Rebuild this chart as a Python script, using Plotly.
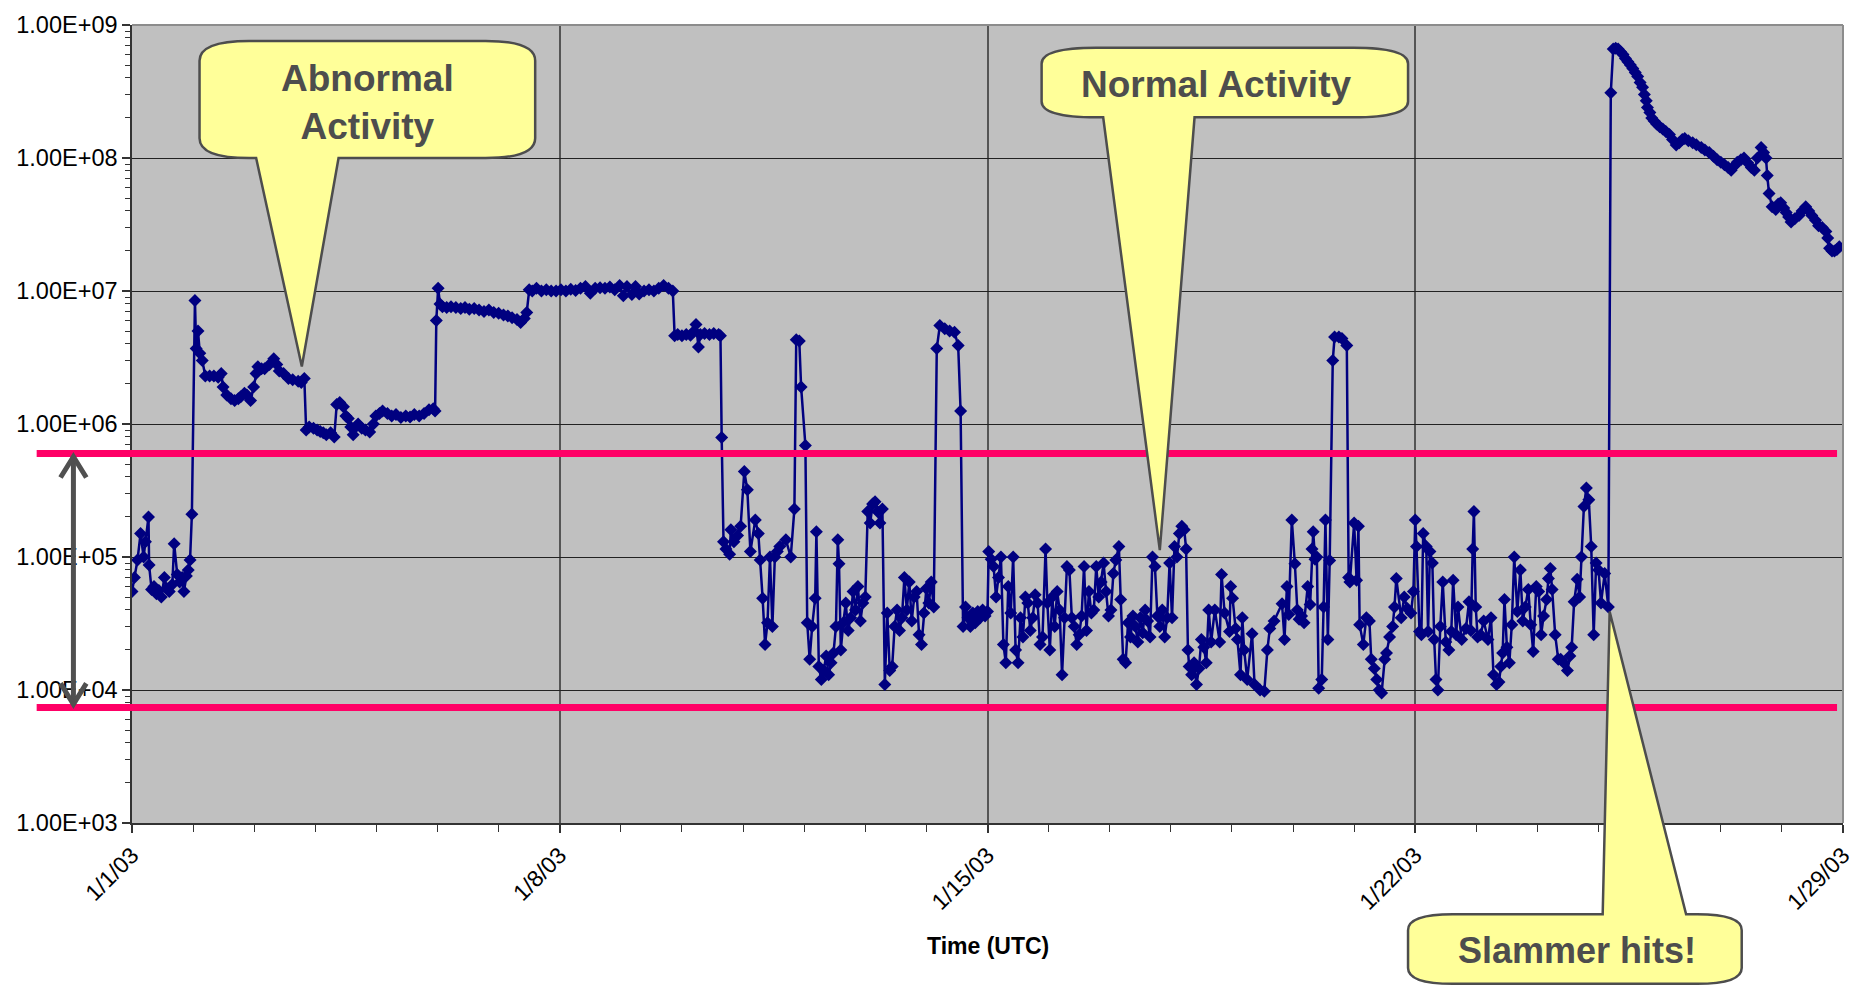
import numpy as np
import pandas as pd
import plotly.graph_objects as go

# ---------------- data (day offset from 2003-01-01 00:00 UTC, count) ----------------
start_date = "2003-01-01"

seg_baseline = [
    (0.00, 5.5e4), (0.04, 7.0e4), (0.09, 9.5e4), (0.14, 1.5e5), (0.19, 1.0e5), (0.22, 1.3e5),
    (0.27, 2.0e5), (0.28, 8.7e4), (0.32, 5.7e4), (0.36, 6.0e4), (0.40, 5.3e4), (0.44, 5.6e4),
    (0.48, 5.0e4), (0.53, 7.0e4), (0.57, 5.8e4), (0.61, 5.5e4), (0.66, 6.2e4), (0.69, 1.26e5),
    (0.74, 7.4e4), (0.78, 6.5e4), (0.82, 7.0e4), (0.85, 5.5e4), (0.89, 7.2e4), (0.92, 8.0e4),
    (0.95, 9.5e4), (0.98, 2.1e5),
]

seg_abnormal_1 = [
    (1.03, 8.5e6), (1.05, 3.7e6), (1.08, 5.0e6), (1.11, 3.4e6), (1.15, 3.0e6), (1.20, 2.3e6),
    (1.27, 2.3e6), (1.34, 2.3e6), (1.41, 2.25e6), (1.46, 2.4e6), (1.49, 1.9e6), (1.55, 1.65e6),
    (1.62, 1.55e6), (1.68, 1.5e6), (1.74, 1.55e6), (1.78, 1.6e6), (1.84, 1.7e6), (1.88, 1.65e6),
    (1.94, 1.5e6), (1.99, 1.9e6), (2.03, 2.4e6), (2.06, 2.7e6), (2.12, 2.6e6), (2.17, 2.6e6),
    (2.25, 2.8e6), (2.32, 3.1e6), (2.37, 2.8e6), (2.41, 2.5e6), (2.48, 2.4e6), (2.56, 2.2e6),
    (2.63, 2.15e6), (2.72, 2.1e6), (2.77, 2.05e6), (2.82, 2.2e6), (2.85, 9.0e5), (2.90, 9.5e5),
    (2.97, 9.3e5), (3.03, 9.0e5), (3.08, 8.8e5), (3.13, 8.6e5), (3.18, 8.3e5), (3.25, 8.6e5),
    (3.31, 8.0e5), (3.35, 1.4e6), (3.40, 1.45e6), (3.46, 1.35e6), (3.50, 1.15e6), (3.54, 1.1e6),
    (3.58, 9.5e5), (3.62, 8.3e5), (3.66, 9.5e5), (3.70, 1.0e6), (3.76, 9.3e5), (3.82, 9.0e5),
    (3.89, 8.7e5), (3.95, 1.0e6), (3.99, 1.15e6), (4.05, 1.2e6), (4.10, 1.25e6), (4.18, 1.2e6),
    (4.25, 1.15e6), (4.32, 1.18e6), (4.40, 1.12e6), (4.48, 1.15e6), (4.55, 1.13e6), (4.62, 1.18e6),
    (4.70, 1.15e6), (4.78, 1.2e6), (4.86, 1.28e6), (4.93, 1.3e6), (4.96, 1.25e6),
]

seg_abnormal_2 = [
    (4.98, 6.0e6), (5.01, 1.05e7), (5.04, 8.0e6), (5.08, 7.6e6), (5.15, 7.5e6), (5.22, 7.6e6),
    (5.30, 7.5e6), (5.38, 7.4e6), (5.45, 7.5e6), (5.52, 7.3e6), (5.60, 7.4e6), (5.68, 7.2e6),
    (5.76, 7.0e6), (5.84, 7.2e6), (5.92, 6.9e6), (6.00, 6.8e6), (6.08, 6.6e6), (6.15, 6.5e6),
    (6.22, 6.3e6), (6.30, 6.1e6), (6.36, 5.8e6), (6.42, 6.2e6), (6.46, 6.9e6), (6.50, 1.02e7),
    (6.55, 1.0e7), (6.62, 1.05e7), (6.70, 1.0e7), (6.78, 1.02e7), (6.86, 1.0e7), (6.94, 1.0e7),
    (7.02, 1.02e7), (7.10, 1.0e7), (7.18, 1.03e7), (7.26, 1.01e7), (7.34, 1.05e7), (7.42, 1.08e7),
    (7.50, 9.6e6), (7.58, 1.05e7), (7.66, 1.06e7), (7.74, 1.05e7), (7.82, 1.07e7), (7.90, 1.02e7),
    (7.98, 1.1e7), (8.04, 9.2e6), (8.10, 1.08e7), (8.18, 9.4e6), (8.24, 1.08e7), (8.30, 9.5e6),
    (8.38, 1.0e7), (8.46, 1.02e7), (8.54, 1.0e7), (8.62, 1.05e7), (8.70, 1.1e7), (8.78, 1.05e7),
    (8.85, 1.0e7), (8.88, 4.6e6), (8.93, 4.7e6), (9.00, 4.6e6), (9.07, 4.7e6), (9.14, 4.65e6),
    (9.20, 5.0e6), (9.23, 5.6e6), (9.27, 3.8e6), (9.30, 4.7e6), (9.37, 4.8e6), (9.45, 4.7e6),
    (9.52, 4.8e6), (9.60, 4.7e6), (9.63, 4.6e6),
]

seg_normal_1 = [
    (9.65, 7.9e5), (9.68, 1.3e5), (9.72, 1.15e5), (9.78, 1.05e5), (9.80, 1.6e5), (9.85, 1.3e5),
    (9.91, 1.45e5), (9.96, 1.7e5), (10.02, 4.4e5), (10.07, 3.2e5), (10.12, 1.1e5), (10.20, 1.9e5),
    (10.25, 1.5e5), (10.28, 9.5e4), (10.32, 4.9e4), (10.36, 2.2e4), (10.40, 3.2e4), (10.44, 1.0e5),
    (10.48, 3.0e4), (10.52, 1.0e5), (10.56, 1.1e5), (10.60, 1.2e5), (10.70, 1.35e5), (10.78, 1.0e5),
    (10.84, 2.3e5), (10.87, 4.3e6), (10.92, 4.2e6), (10.95, 1.9e6), (11.02, 6.9e5), (11.05, 3.2e4),
    (11.09, 1.7e4), (11.13, 3.0e4), (11.18, 4.9e4), (11.20, 1.55e5), (11.24, 1.5e4), (11.28, 1.2e4),
    (11.32, 1.4e4), (11.36, 1.8e4), (11.40, 1.3e4), (11.44, 1.6e4), (11.48, 1.9e4), (11.52, 3.0e4),
    (11.55, 1.35e5), (11.57, 8.9e4), (11.60, 2.0e4), (11.64, 3.2e4), (11.68, 4.5e4), (11.72, 2.8e4),
    (11.76, 3.5e4), (11.80, 5.5e4), (11.84, 4.0e4), (11.88, 6.0e4), (11.92, 3.3e4), (11.96, 4.5e4),
    (12.00, 5.0e4), (12.04, 2.2e5), (12.08, 1.8e5), (12.12, 2.5e5), (12.16, 2.6e5), (12.20, 2.2e5),
    (12.24, 1.8e5), (12.28, 2.3e5), (12.32, 1.1e4), (12.36, 3.8e4), (12.40, 1.4e4), (12.44, 1.5e4),
    (12.48, 3.0e4), (12.52, 4.0e4), (12.56, 2.8e4), (12.60, 3.5e4), (12.64, 7.0e4), (12.68, 4.0e4),
    (12.72, 6.5e4), (12.76, 3.3e4), (12.80, 5.0e4), (12.84, 5.5e4), (12.88, 2.6e4), (12.92, 2.2e4),
    (12.96, 3.8e4), (13.00, 5.8e4), (13.04, 4.5e4), (13.08, 6.5e4), (13.12, 4.2e4), (13.17, 3.7e6),
    (13.22, 5.5e6), (13.30, 5.2e6), (13.38, 5.0e6), (13.46, 4.9e6), (13.52, 3.9e6), (13.56, 1.25e6),
    (13.60, 3.0e4), (13.64, 4.2e4), (13.68, 3.5e4), (13.72, 3.0e4), (13.76, 3.8e4), (13.80, 3.2e4),
    (13.84, 3.9e4), (13.88, 3.5e4), (13.92, 4.0e4), (13.96, 3.6e4), (14.00, 3.9e4), (14.02, 1.1e5),
]

seg_normal_2 = [
    (14.06, 9.6e4), (14.10, 8.5e4), (14.14, 5.0e4), (14.18, 7.0e4), (14.22, 1.0e5), (14.26, 2.2e4),
    (14.30, 1.6e4), (14.34, 6.0e4), (14.38, 3.8e4), (14.42, 1.0e5), (14.46, 2.0e4), (14.50, 1.6e4),
    (14.54, 3.5e4), (14.58, 2.5e4), (14.62, 5.0e4), (14.66, 4.5e4), (14.70, 2.8e4), (14.74, 3.5e4),
    (14.78, 5.2e4), (14.82, 4.5e4), (14.86, 2.2e4), (14.90, 2.5e4), (14.95, 1.15e5), (14.98, 4.5e4),
    (15.02, 2.0e4), (15.06, 5.0e4), (15.10, 3.0e4), (15.14, 5.5e4), (15.18, 4.0e4), (15.22, 1.3e4),
    (15.26, 3.5e4), (15.30, 8.5e4), (15.34, 8.0e4), (15.38, 3.5e4), (15.42, 3.0e4), (15.46, 2.2e4),
    (15.50, 2.6e4), (15.54, 3.6e4), (15.58, 8.5e4), (15.62, 2.8e4), (15.66, 5.5e4), (15.70, 3.8e4),
    (15.74, 4.0e4), (15.78, 8.5e4), (15.82, 5.0e4), (15.86, 6.5e4), (15.90, 9.0e4), (15.94, 5.5e4),
    (15.98, 3.6e4), (16.02, 4.0e4), (16.06, 7.5e4), (16.10, 9.5e4), (16.15, 1.2e5), (16.18, 4.8e4),
    (16.22, 1.7e4), (16.26, 1.6e4), (16.30, 3.2e4), (16.34, 2.5e4), (16.38, 3.6e4), (16.42, 3.0e4),
    (16.46, 2.3e4), (16.50, 3.5e4), (16.54, 2.7e4), (16.58, 4.0e4), (16.62, 3.3e4), (16.66, 2.5e4),
    (16.70, 1.0e5), (16.74, 8.5e4), (16.78, 3.6e4), (16.82, 3.0e4), (16.86, 4.0e4), (16.90, 2.5e4),
    (16.94, 3.5e4), (16.98, 9.0e4), (17.02, 3.5e4), (17.06, 1.2e5), (17.10, 1.0e5), (17.14, 1.5e5),
    (17.18, 1.7e5), (17.22, 1.6e5), (17.25, 1.15e5), (17.28, 2.0e4), (17.30, 1.5e4), (17.34, 1.3e4),
    (17.38, 1.6e4), (17.42, 1.1e4), (17.46, 1.45e4), (17.50, 2.4e4), (17.54, 2.1e4), (17.58, 1.6e4),
    (17.62, 4.0e4), (17.66, 2.3e4),
]

seg_normal_3 = [
    (17.72, 4.0e4), (17.80, 2.3e4), (17.83, 7.4e4), (17.88, 3.8e4), (17.96, 2.75e4), (17.98, 6.0e4),
    (18.01, 4.9e4), (18.06, 2.9e4), (18.09, 2.4e4), (18.14, 1.3e4), (18.17, 3.5e4), (18.20, 2.0e4),
    (18.25, 1.2e4), (18.33, 2.65e4), (18.37, 1.1e4), (18.46, 1.0e4), (18.53, 9.8e3), (18.58, 2.0e4),
    (18.62, 2.9e4), (18.69, 3.3e4), (18.82, 4.45e4), (18.86, 2.4e4), (18.90, 6.0e4), (18.93, 3.7e4),
    (18.98, 1.9e5), (19.03, 8.9e4), (19.07, 4.0e4), (19.10, 3.4e4), (19.14, 3.6e4), (19.18, 3.2e4),
    (19.24, 6.0e4), (19.28, 4.4e4), (19.31, 1.15e5), (19.33, 1.55e5), (19.36, 9.6e4), (19.39, 1.0e5),
    (19.42, 1.03e4), (19.47, 1.2e4), (19.50, 4.2e4), (19.53, 1.9e5), (19.57, 2.4e4), (19.60, 9.4e4),
    (19.65, 3.0e6), (19.68, 4.5e6), (19.75, 4.5e6), (19.80, 4.4e6), (19.88, 3.9e6), (19.91, 7.0e4),
    (19.93, 6.5e4), (20.00, 1.8e5), (20.04, 6.7e4), (20.07, 1.7e5), (20.09, 3.1e4), (20.15, 2.2e4),
    (20.20, 3.5e4), (20.25, 3.3e4), (20.28, 1.7e4), (20.33, 1.45e4), (20.37, 1.2e4), (20.41, 1.0e4),
    (20.45, 9.5e3), (20.50, 1.7e4), (20.53, 1.9e4), (20.58, 2.5e4), (20.63, 3.0e4), (20.66, 4.2e4),
    (20.69, 6.9e4), (20.77, 3.5e4), (20.82, 5.0e4), (20.87, 4.1e4), (20.93, 3.8e4), (20.97, 5.5e4),
    (21.00, 1.9e5), (21.02, 1.2e5), (21.07, 2.75e4), (21.10, 2.6e4), (21.13, 1.5e5), (21.18, 1.2e5),
    (21.21, 2.75e4), (21.24, 1.1e5), (21.28, 9.0e4), (21.31, 2.4e4), (21.34, 1.2e4), (21.37, 1.0e4),
    (21.41, 3.0e4), (21.45, 6.5e4), (21.50, 2.3e4), (21.55, 2.0e4), (21.59, 2.75e4), (21.62, 6.7e4),
    (21.67, 2.6e4), (21.70, 4.2e4), (21.76, 2.4e4), (21.83, 2.9e4), (21.88, 4.6e4), (21.91, 2.8e4),
    (21.94, 1.15e5), (21.96, 2.2e5), (21.99, 4.2e4), (22.02, 2.5e4), (22.07, 2.6e4), (22.12, 3.3e4),
    (22.19, 2.4e4), (22.24, 3.5e4), (22.28, 1.3e4), (22.33, 1.1e4), (22.37, 1.15e4), (22.40, 1.5e4),
    (22.43, 1.9e4), (22.46, 4.8e4), (22.50, 2.1e4), (22.54, 1.6e4), (22.58, 3.1e4), (22.62, 1.0e5),
    (22.67, 3.9e4), (22.72, 8.0e4), (22.76, 3.3e4), (22.80, 4.2e4), (22.85, 5.7e4), (22.89, 3.1e4),
    (22.93, 1.95e4), (22.98, 6.0e4), (23.02, 5.5e4), (23.06, 2.6e4), (23.10, 3.6e4), (23.15, 4.8e4),
    (23.18, 6.9e4), (23.21, 8.2e4), (23.24, 5.7e4), (23.29, 2.6e4), (23.34, 1.7e4), (23.38, 1.7e4),
    (23.43, 1.6e4), (23.49, 1.4e4), (23.53, 1.8e4), (23.56, 2.1e4), (23.60, 4.6e4), (23.65, 6.8e4),
    (23.69, 5.0e4), (23.72, 1.0e5), (23.76, 2.4e5), (23.80, 3.3e5), (23.84, 2.7e5), (23.88, 1.2e5),
    (23.92, 2.6e4), (23.96, 9.0e4), (24.00, 8.0e4), (24.04, 4.5e4), (24.10, 7.5e4), (24.16, 4.2e4),
]

seg_slammer = [
    (24.20, 3.1e8), (24.24, 6.6e8), (24.28, 6.7e8), (24.32, 6.6e8), (24.36, 6.3e8), (24.40, 6.0e8),
    (24.44, 5.6e8), (24.48, 5.3e8), (24.52, 5.0e8), (24.56, 4.7e8), (24.60, 4.4e8), (24.64, 4.1e8),
    (24.68, 3.7e8), (24.72, 3.4e8), (24.75, 3.0e8), (24.78, 2.7e8), (24.80, 2.4e8), (24.84, 2.2e8),
    (24.87, 2.0e8), (24.91, 1.9e8), (24.95, 1.8e8), (25.00, 1.72e8), (25.05, 1.65e8), (25.10, 1.58e8),
    (25.16, 1.5e8), (25.21, 1.38e8), (25.27, 1.25e8), (25.32, 1.3e8), (25.37, 1.38e8), (25.41, 1.4e8),
    (25.47, 1.35e8), (25.54, 1.3e8), (25.60, 1.26e8), (25.68, 1.2e8), (25.74, 1.15e8), (25.81, 1.1e8),
    (25.88, 1.03e8), (25.94, 9.7e7), (26.00, 9.3e7), (26.06, 8.9e7), (26.12, 8.5e7), (26.17, 8.1e7),
    (26.22, 8.7e7), (26.27, 9.3e7), (26.33, 9.7e7), (26.38, 1.0e8), (26.44, 9.2e7), (26.50, 8.5e7),
    (26.55, 8.1e7), (26.60, 1.0e8), (26.66, 1.2e8), (26.70, 1.1e8), (26.74, 1.0e8), (26.76, 7.4e7),
    (26.79, 5.4e7), (26.84, 4.3e7), (26.90, 4.1e7), (26.94, 4.5e7), (26.98, 4.6e7), (27.03, 4.2e7),
    (27.07, 3.9e7), (27.11, 3.6e7), (27.15, 3.3e7), (27.21, 3.5e7), (27.28, 3.7e7), (27.33, 4.0e7),
    (27.39, 4.3e7), (27.44, 4.0e7), (27.49, 3.7e7), (27.55, 3.4e7), (27.60, 3.1e7), (27.66, 3.0e7),
    (27.72, 2.8e7), (27.75, 2.5e7), (27.78, 2.1e7), (27.82, 2.0e7), (27.86, 2.0e7), (27.90, 2.05e7),
    (27.94, 2.15e7),
]

upper_threshold = 6.0e5
lower_threshold = 7.4e3

y_tick_values = [1e3, 1e4, 1e5, 1e6, 1e7, 1e8, 1e9]
y_tick_labels = ["1.00E+03", "1.00E+04", "1.00E+05", "1.00E+06", "1.00E+07", "1.00E+08", "1.00E+09"]
x_tick_dates = ["2003-01-01", "2003-01-08", "2003-01-15", "2003-01-22", "2003-01-29"]
x_tick_labels = ["1/1/03", "1/8/03", "1/15/03", "1/22/03", "1/29/03"]
x_title = "Time (UTC)"
callout_texts = ["Abnormal<br>Activity", "Normal Activity", "Slammer hits!"]

# ---------------- build series ----------------
all_pairs = seg_baseline + seg_abnormal_1 + seg_abnormal_2 + seg_normal_1 + seg_normal_2 + seg_normal_3 + seg_slammer
day_offset = [p[0] for p in all_pairs]
counts = [p[1] for p in all_pairs]
times = pd.Timestamp(start_date) + pd.to_timedelta(day_offset, unit="D")

W, H = 1867, 986
L, R, T, B = 132, 1855, 19, 823


def px(x):
    return (x - L) / (R - L)


def py(y):
    return (B - y) / (B - T)


def ylog_paper(v):
    return (np.log10(v) - 3.0) / 6.0


def callout_path(x0, y0, x1, y1, rx, ry, side, bx0, bx1, tx, ty):
    def P(x, y):
        return f"{px(x):.5f},{py(y):.5f}"
    s = f"M{P(x0 + rx, y0)}"
    if side == "top":
        s += f" L{P(bx0, y0)} L{P(tx, ty)} L{P(bx1, y0)}"
    s += f" L{P(x1 - rx, y0)} Q{P(x1, y0)} {P(x1, y0 + ry)}"
    s += f" L{P(x1, y1 - ry)} Q{P(x1, y1)} {P(x1 - rx, y1)}"
    if side == "bottom":
        s += f" L{P(bx1, y1)} L{P(tx, ty)} L{P(bx0, y1)}"
    s += f" L{P(x0 + rx, y1)} Q{P(x0, y1)} {P(x0, y1 - ry)}"
    s += f" L{P(x0, y0 + ry)} Q{P(x0, y0)} {P(x0 + rx, y0)} Z"
    return s


fig = go.Figure()
fig.add_trace(go.Scatter(
    x=times, y=counts, mode="lines+markers",
    line=dict(color="#000080", width=2.5),
    marker=dict(symbol="diamond", size=10, color="#000080", line=dict(width=0)),
    showlegend=False, hoverinfo="x+y",
))

shapes = []
# plot border (top / right in light gray)
shapes.append(dict(type="line", xref="paper", yref="paper", x0=0, x1=1, y0=1, y1=1,
                   line=dict(color="#8c8c8c", width=2), layer="above"))
shapes.append(dict(type="line", xref="paper", yref="paper", x0=1, x1=1, y0=0, y1=1,
                   line=dict(color="#8c8c8c", width=2), layer="above"))
# threshold lines
for thr in (upper_threshold, lower_threshold):
    shapes.append(dict(type="line", xref="paper", yref="paper",
                       x0=px(36), x1=px(1849), y0=ylog_paper(thr), y1=ylog_paper(thr),
                       line=dict(color="#ff0066", width=7), layer="above"))
# double-headed arrow
ya, yb = ylog_paper(upper_threshold), ylog_paper(lower_threshold)
ax_x = px(73)
shapes.append(dict(type="line", xref="paper", yref="paper", x0=ax_x, x1=ax_x,
                   y0=ya - 0.004, y1=yb + 0.004, line=dict(color="#505050", width=5), layer="above"))
hw, hh = 13 / (R - L), 21 / (B - T)
for ytip, sgn in ((ya - 0.004, -1), (yb + 0.004, 1)):
    path = (f"M{ax_x - hw:.5f},{ytip + sgn * hh:.5f} L{ax_x:.5f},{ytip:.5f} "
            f"L{ax_x + hw:.5f},{ytip + sgn * hh:.5f}")
    shapes.append(dict(type="path", xref="paper", yref="paper", path=path,
                       line=dict(color="#505050", width=5), layer="above"))
# callouts
callout_style = dict(type="path", xref="paper", yref="paper", fillcolor="#ffff99",
                     line=dict(color="#4d4d4d", width=2.5), layer="above")
shapes.append(dict(path=callout_path(200, 35, 538, 153, 50, 20, "bottom", 257, 340, 303, 363), **callout_style))
shapes.append(dict(path=callout_path(1048, 42, 1417, 112, 55, 16, "bottom", 1110, 1202, 1167, 548), **callout_style))
shapes.append(dict(path=callout_path(1417, 915, 1753, 985, 45, 16, "top", 1613, 1697, 1620, 610), **callout_style))

font_family = "Liberation Sans, Arial, sans-serif"
annotations = []
callout_centers = [(369, 97), (1224, 79), (1587, 951)]
callout_sizes = [37, 37, 36]
for text, (cx, cy), fs in zip(callout_texts, callout_centers, callout_sizes):
    annotations.append(dict(text=f"<b>{text}</b>", xref="paper", yref="paper",
                            x=px(cx), y=py(cy), xanchor="center", yanchor="middle",
                            showarrow=False,
                            font=dict(family=font_family, size=fs, color="#4d4d4d")))
annotations.append(dict(text=f"<b>{x_title}</b>", xref="paper", yref="paper",
                        x=px((L + R) / 2), y=py(947), xanchor="center", yanchor="middle",
                        showarrow=False, font=dict(family=font_family, size=23, color="#000000")))

minor_y = [k * 10 ** e for e in range(3, 9) for k in range(2, 10)]
minor_x = list(pd.date_range("2003-01-01", "2003-01-29", freq="D"))

fig.update_layout(
    width=W, height=H,
    margin=dict(l=L, r=W - R, t=T, b=H - B, pad=0),
    paper_bgcolor="#ffffff", plot_bgcolor="#c0c0c0",
    font=dict(family=font_family, color="#000000"),
    shapes=shapes, annotations=annotations, showlegend=False,
    xaxis=dict(
        type="date", range=[pd.Timestamp("2003-01-01"), pd.Timestamp("2003-01-29")],
        tickmode="array", tickvals=[pd.Timestamp(d) for d in x_tick_dates], ticktext=x_tick_labels,
        tickangle=-45, tickfont=dict(size=23, family=font_family, color="#000000"),
        ticks="outside", ticklen=8, tickwidth=1.5, tickcolor="#333333",
        showgrid=True, gridcolor="#555555", gridwidth=1.5,
        showline=True, linecolor="#333333", linewidth=1.5,
        zeroline=False,
        minor=dict(tickmode="array", tickvals=minor_x, ticks="outside", ticklen=7,
                   tickwidth=1.2, tickcolor="#333333", showgrid=False),
    ),
    yaxis=dict(
        type="log", range=[3, 9],
        tickmode="array", tickvals=y_tick_values, ticktext=y_tick_labels,
        tickfont=dict(size=23.5, family=font_family, color="#000000"),
        ticks="outside", ticklen=8, tickwidth=1.5, tickcolor="#333333",
        showgrid=True, gridcolor="#222222", gridwidth=1,
        showline=True, linecolor="#333333", linewidth=1.5,
        zeroline=False,
        minor=dict(tickmode="array", tickvals=minor_y, ticks="outside", ticklen=5,
                   tickwidth=1.2, tickcolor="#333333", showgrid=False),
    ),
)

fig.write_html("out.html", config={"displayModeBar": False},
               post_script="document.body.style.margin='0';document.body.style.overflow='hidden';")
